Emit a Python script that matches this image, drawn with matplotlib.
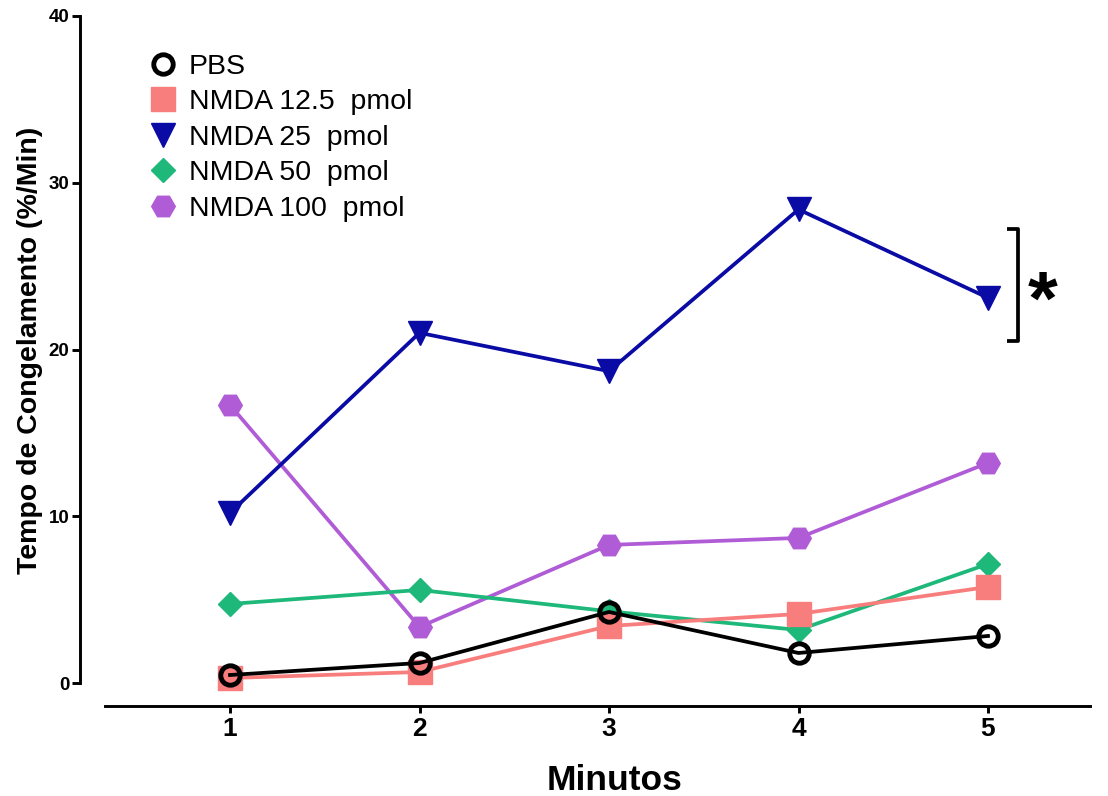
import matplotlib
matplotlib.use("Agg")
import matplotlib.pyplot as plt
from matplotlib.lines import Line2D

plt.rcParams['font.family'] = ['Liberation Sans', 'DejaVu Sans']

minutes = [1, 2, 3, 4, 5]
pbs = [0.48, 1.2, 4.26, 1.8, 2.82]
nmda_12_5 = [0.3, 0.66, 3.42, 4.14, 5.76]
nmda_25 = [10.2, 21.0, 18.7, 28.4, 23.1]
nmda_50 = [4.74, 5.58, 4.3, 3.18, 7.14]
nmda_100 = [16.67, 3.36, 8.28, 8.7, 13.2]
labels = ["PBS", "NMDA 12.5  pmol", "NMDA 25  pmol", "NMDA 50  pmol", "NMDA 100  pmol"]
yticks = [0, 10, 20, 30, 40]

W, H = 1108, 796
fig = plt.figure(figsize=(W/100, H/100), dpi=100)
ax = fig.add_axes([80/W, 1-706/H, (1090-80)/W, (706-16)/H])

px_per_x = 189.5
x_left = 1 - (230-80)/px_per_x
x_right = 5 + (1090-988)/px_per_x
ax.set_xlim(x_left, x_right)
px_per_y = (683-16)/40
ax.set_ylim(-(706-683)/px_per_y, 40)

styles = [
    dict(color='black', marker='o', mfc='none', mew=3.5, ms=14),
    dict(color='#F87D7D', marker='s', ms=17),
    dict(color='#0A0AA5', marker='v', ms=17),
    dict(color='#1DB87A', marker='D', ms=12),
    dict(color='#B05CD6', marker='H', ms=17),
]
series = [pbs, nmda_12_5, nmda_25, nmda_50, nmda_100]
order = [4, 3, 2, 1, 0]
for i in order:
    st = styles[i]
    ax.plot(minutes, series[i], lw=2.7, zorder=3 + (4 - i), **st)

for s in ['top', 'right']:
    ax.spines[s].set_visible(False)
ax.spines['left'].set_bounds(0, 40)
ax.spines['bottom'].set_bounds(x_left + (105-80)/px_per_x, x_right)
ax.spines['left'].set_linewidth(2.1)
ax.spines['bottom'].set_linewidth(2.1)

ax.set_xticks(minutes)
ax.set_yticks(yticks)
ax.tick_params(axis='both', width=2.1)
ax.tick_params(axis='x', labelsize=19, length=5, pad=3.0)
ax.tick_params(axis='y', labelsize=13.5, length=5.8, pad=2)
for lab in ax.get_xticklabels() + ax.get_yticklabels():
    lab.set_fontweight('bold')

ax.set_xlabel("Minutos", fontsize=25.5, fontweight='bold')
ax.xaxis.label.set_va('baseline')
ax.xaxis.set_label_coords((615-80)/1010, -(790-706)/690)
ax.set_ylabel("Tempo de Congelamento (%/Min)", fontsize=20.5, fontweight='bold')
ax.yaxis.set_label_coords((43-80)/1010, (706-350)/690)

handles = [Line2D([], [], ls='none', **styles[i]) for i in range(5)]
leg = ax.legend(handles, labels, loc='upper left',
                bbox_to_anchor=((149-80)/1010, 1-(54-16)/690),
                frameon=False, fontsize=20.5, handletextpad=0.45, labelspacing=0.33,
                handlelength=0.95, borderaxespad=0, borderpad=0)

# significance bracket
bx = 5 + (1018-988)/px_per_x
tick = 11/px_per_x
y_top, y_bot = 27.2, 20.5
ax.plot([bx - tick, bx, bx, bx - tick], [y_top, y_top, y_bot, y_bot], color='black', lw=2.7,
        clip_on=False, solid_capstyle='butt')
ax.text(5 + (1043-988)/px_per_x, 22.7, "*", fontsize=55, fontweight='bold', ha='center', va='center')

fig.savefig("out.png", dpi=100)
